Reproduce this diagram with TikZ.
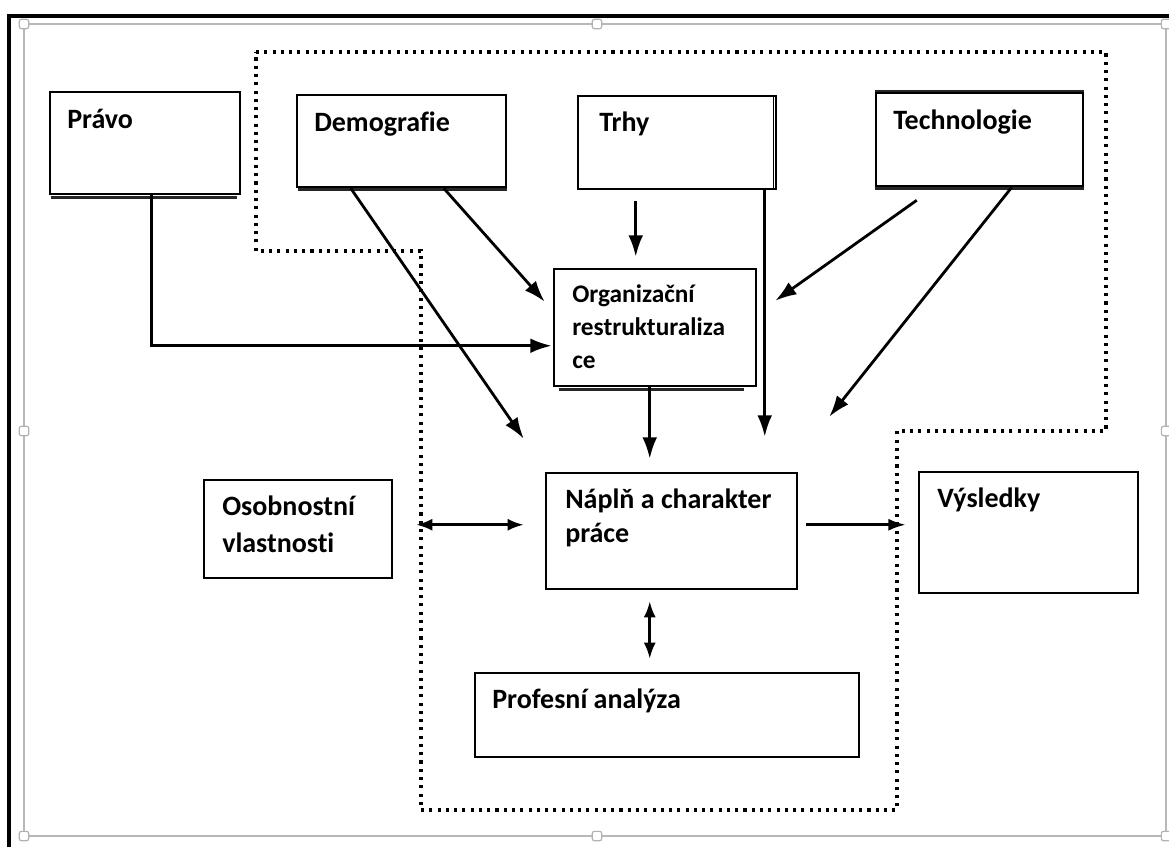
\documentclass[tikz,border=0pt]{standalone}
\usepackage{fontspec}
\setmainfont{Carlito}[Ligatures=NoCommon]
\usetikzlibrary{arrows.meta,calc,fit}
\begin{document}
\begin{tikzpicture}[x=0.75pt,y=-0.75pt,
  box/.style={draw, line width=1.9pt, inner sep=0pt, fill=white},
  lbl/.style={anchor=base west, inner sep=0pt, font=\fontsize{21}{27}\selectfont\bfseries},
  lblsm/.style={anchor=base west, inner sep=0pt, font=\fontsize{19}{25}\selectfont\bfseries},
  arr/.style={line width=2.1pt, -{Latex[length=16pt,width=11pt]}},
  darr/.style={line width=2pt, {Latex[length=12pt,width=9pt]}-{Latex[length=12pt,width=9pt]}},
  sarr/.style={line width=2pt, -{Latex[length=13pt,width=9pt]}},
  dotline/.style={line width=2.5pt, dash pattern=on 2.3pt off 3.9pt},
  shadowline/.style={line width=2pt, black!85},
  selframe/.style={draw=black!28, line width=1.1pt},
  handle/.style={draw=black!30, fill=white, line width=0.9pt, rounded corners=1.5pt, minimum size=7pt, inner sep=0pt}
]
\useasboundingbox (0,0) rectangle (1169,847);
\fill[white] (0,0) rectangle (1169,847);

% outer black frame (left and top)
\fill[black] (7,14) rectangle (11,847);
\fill[black] (7,14) rectangle (1169,18);

% selection frame
\draw[selframe] (24,24) rectangle (1166,836);
\node[handle] (h1) at (24,24) {};
\node[handle] (h2) at (597,24) {};
\node[handle] (h3) at (1166,24) {};
\node[handle] (h4) at (24,431) {};
\node[handle] (h5) at (1166,431) {};
\node[handle] (h6) at (24,836) {};
\node[handle] (h7) at (597,836) {};
\node[handle] (h8) at (1166,836) {};

% dotted outline
\draw[dotline] (256,52) -- (1106,52) -- (1106,431) -- (897,431) -- (897,810)
  -- (421,810) -- (421,251) -- (256,251) -- cycle;

% boxes
\node[box, fit={(50,92) (240,194)}] (pravo) {};
\node[box, fit={(297,95) (506,187)}] (demo) {};
\node[box, fit={(578,96) (776,189)}] (trhy) {};
\node[box, fit={(876,93) (1083,186)}] (tech) {};
\node[box, fit={(554,269) (756,386)}] (org) {};
\node[box, fit={(546,473) (797,589)}] (naplne) {};
\node[box, fit={(204,480) (392,578)}] (osob) {};
\node[box, fit={(919,472) (1138,593)}] (vysl) {};
\node[box, fit={(475,673) (859,757)}] (prof) {};

% shadows / thicker edges
\draw[shadowline] ($(pravo.south west)+(2,2)$) -- ($(pravo.south east)+(-4,2)$);
\draw[shadowline] ($(org.south west)+(6,2)$) -- ($(org.south east)+(-13,2)$);
\draw[shadowline] ($(demo.south west)+(2,1.2)$) -- ($(demo.south east)+(0,1.2)$);
\draw[shadowline] ($(tech.south west)+(0,1.2)$) -- ($(tech.south east)+(0,1.2)$);
\draw[shadowline] ($(tech.north west)+(0,-0.8)$) -- ($(tech.north east)+(0,-0.8)$);
\draw[line width=0.9pt] ($(trhy.north east)+(-4,0)$) -- ($(trhy.south east)+(-4,0)$);

% labels
\node[lbl] (tpravo) at (67,128) {Právo};
\node[lbl] (tdemo) at (314,131) {Demografie};
\node[lbl] (ttrhy) at (599,131) {Trhy};
\node[lbl] (ttech) at (893,129) {Technologie};
\node[lblsm] (torg1) at (572,302) {Organizační};
\node[lblsm] (torg2) at (572,335) {restrukturaliza};
\node[lblsm] (torg3) at (572,368) {ce};
\node[lbl] (tosob1) at (222,515) {Osobnostní};
\node[lbl] (tosob2) at (222,552) {vlastnosti};
\node[lbl] (tnap1) at (565,508) {Náplň a charakter};
\node[lbl] (tnap2) at (565,542) {práce};
\node[lbl] (tvysl) at (937,507) {Výsledky};
\node[lbl] (tprof) at (492,708) {Profesní analýza};

% connectors
\draw[arr] ($(pravo.south west)+(103,0)$) |- ($(org.north west)+(-1,78)$);
\draw[arr] ($(demo.south west)+(148,0)$) -- ($(org.north west)+(-8,34)$);
\draw[arr] ($(demo.south west)+(55,0)$) -- ($(naplne.north west)+(-21,-33)$);
\draw[arr] ($(trhy.south west)+(59,11)$) -- ($(org.north west)+(83,-11)$);
\draw[arr] ($(trhy.south west)+(188,0)$) -- ($(naplne.north west)+(220,-35)$);
\draw[arr] ($(tech.south west)+(42,13)$) -- ($(org.north east)+(18,33)$);
\draw[arr] ($(tech.south west)+(137,0)$) -- ($(naplne.north east)+(31,-55)$);
\draw[arr] ($(org.south west)+(97,0)$) -- ($(naplne.north west)+(105,-13)$);
\draw[darr] ($(osob.north east)+(23,46)$) -- ($(naplne.north west)+(-21,53)$);
\draw[sarr] ($(naplne.north east)+(8,53)$) -- ($(vysl.north west)+(-12,54)$);
\draw[darr] ($(naplne.south west)+(105,11)$) -- ($(prof.north west)+(176,-13)$);
\end{tikzpicture}
\end{document}
